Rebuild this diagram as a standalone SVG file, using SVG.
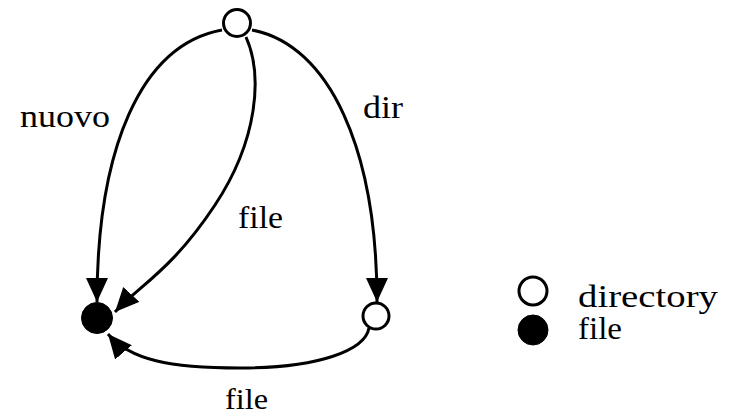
<svg xmlns="http://www.w3.org/2000/svg" width="733" height="416" viewBox="0 0 733 416">
<style>
.e{fill:none;stroke:#000;stroke-width:3;marker-end:url(#ah)}
.dir{fill:#fff;stroke:#000;stroke-width:3}
.file{fill:#000;stroke:#000;stroke-width:1}
text{font-family:"Liberation Serif","Times New Roman",serif;font-size:31px;fill:#000}
</style>
<defs>
<marker id="ah" markerUnits="userSpaceOnUse" markerWidth="26" markerHeight="24" refX="24" refY="11" orient="auto" viewBox="0 0 26 24">
<path d="M0,0 L24,11 L0,22 Z" fill="#000"/>
</marker>
</defs>
<rect width="733" height="416" fill="#fff"/>
<g id="connectors">
<path class="e" d="M222,30 C140,45 97,150 97,302"/>
<path class="e" d="M252,30 C330,45 377,150 377,302"/>
<path class="e" d="M246,37 C263,75 258,140 215,205 S140,285 115,312"/>
<path class="e" d="M369,328 C365,350 320,368 240,368 C170,368 130,360 108,334"/>
<text x="20" y="127" textLength="90" lengthAdjust="spacingAndGlyphs">nuovo</text>
<text x="363" y="118" textLength="40" lengthAdjust="spacingAndGlyphs">dir</text>
<text x="238" y="228" textLength="45" lengthAdjust="spacingAndGlyphs">file</text>
<text x="225" y="409" style="font-size:29px" textLength="43" lengthAdjust="spacingAndGlyphs">file</text>
</g>
<g id="n_top"><circle class="dir" cx="237" cy="23" r="13.5"/></g>
<g id="n_file"><circle class="file" cx="97" cy="318" r="15.5"/></g>
<g id="n_dir"><circle class="dir" cx="376" cy="316" r="13"/></g>
<g id="legend">
<circle class="dir" cx="533" cy="291" r="14"/>
<circle class="file" cx="533" cy="330" r="15"/>
<text x="578" y="307" textLength="140" lengthAdjust="spacingAndGlyphs">directory</text>
<text x="578" y="339" textLength="44" lengthAdjust="spacingAndGlyphs">file</text>
</g>
</svg>
